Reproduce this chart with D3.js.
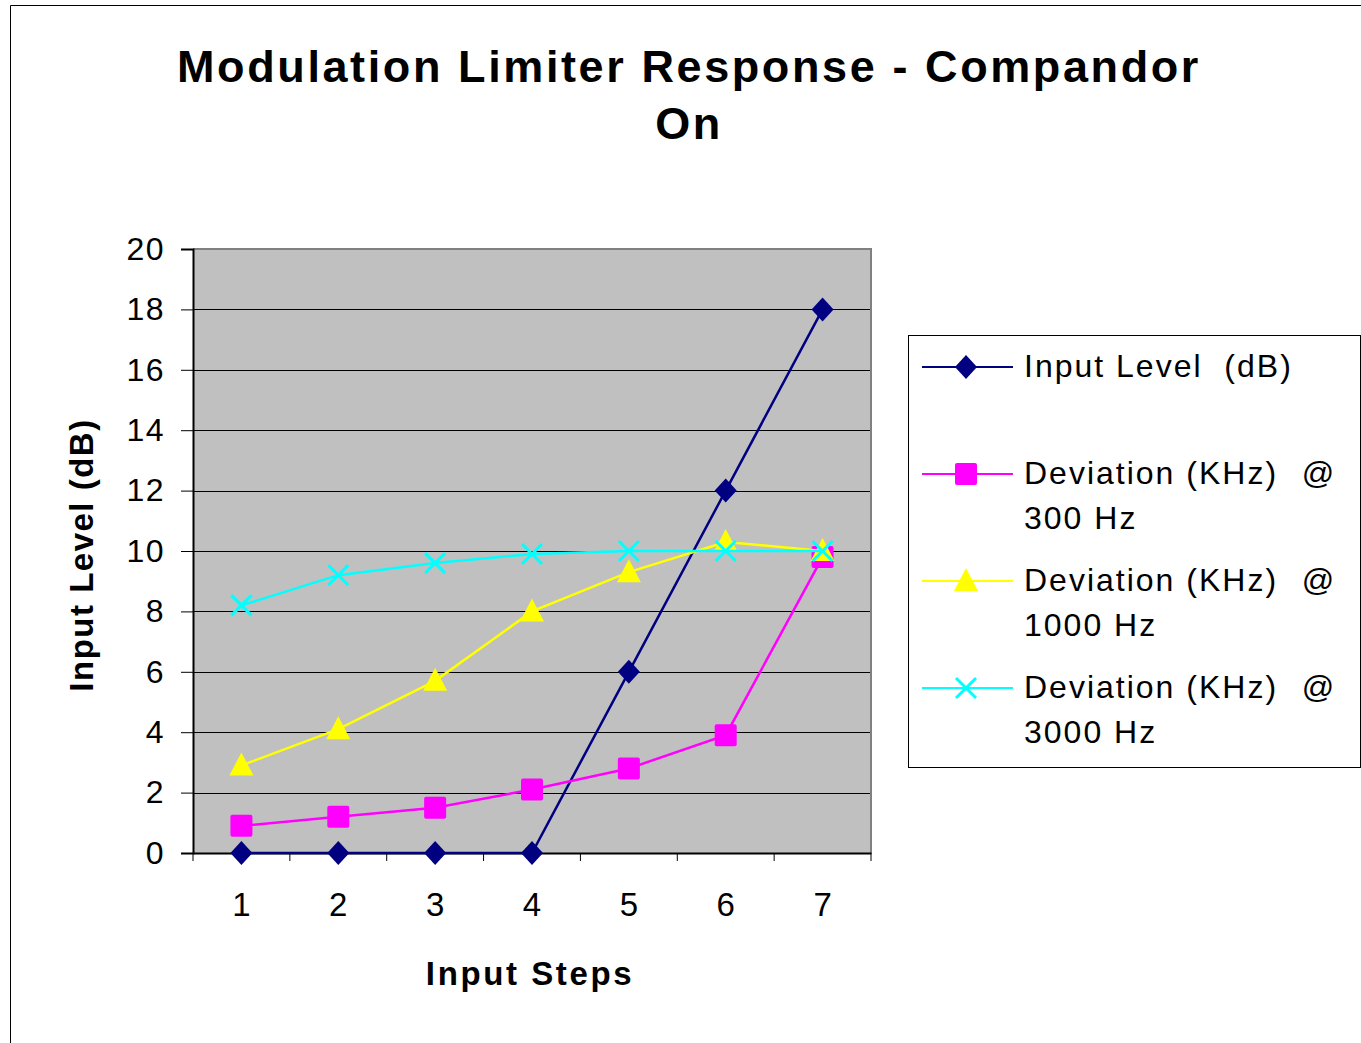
<!DOCTYPE html>
<html>
<head>
<meta charset="utf-8">
<script src="https://cdn.jsdelivr.net/npm/d3@7"></script>
<style>
  body { margin: 0; background: #fff; }
  text { font-family: "Liberation Sans", Arial, sans-serif; white-space: pre; }
</style>
</head>
<body>
<div id="chart"></div>
<script>
// data
const steps = ["1", "2", "3", "4", "5", "6", "7"];
const inputLevel = [0, 0, 0, 0, 6, 12, 18];
const dev300 = [0.9, 1.2, 1.5, 2.1, 2.8, 3.9, 9.8];
const dev1000 = [2.9, 4.1, 5.7, 8.0, 9.3, 10.3, 10.0];
const dev3000 = [8.2, 9.2, 9.6, 9.9, 10.0, 10.0, 10.0];
const yTicks = [0, 2, 4, 6, 8, 10, 12, 14, 16, 18, 20];

const series = [
  {name: ["Input Level  (dB)"], values: inputLevel, color: "#000080", marker: "diamond"},
  {name: ["Deviation (KHz)", "300 Hz"], values: dev300, color: "#FF00FF", marker: "square"},
  {name: ["Deviation (KHz)", "1000 Hz"], values: dev1000, color: "#FFFF00", marker: "triangle"},
  {name: ["Deviation (KHz)", "3000 Hz"], values: dev3000, color: "#00FFFF", marker: "cross"}
];

const W = 1361, H = 1043;
const plot = {left: 193, top: 249, right: 871, bottom: 853};

const svg = d3.select("#chart").append("svg")
  .attr("width", W).attr("height", H);

// outer frame
svg.append("path")
  .attr("d", `M10.5,${H} V5.5 H${W}`)
  .attr("fill", "none").attr("stroke", "#000").attr("stroke-width", 1);

// title
const title = svg.append("text")
  .attr("text-anchor", "middle")
  .style("font-size", "45px").style("font-weight", "bold")
  .style("letter-spacing", "2.6px");
title.append("tspan").attr("x", 689).attr("y", 82).text("Modulation Limiter Response - Compandor");
title.append("tspan").attr("x", 689).attr("y", 139).text("On");

let x = d3.scaleBand().domain(steps).range([plot.left, plot.right]);
let y = d3.scaleLinear().domain([0, 20]).range([plot.bottom, plot.top]);

// plot background
svg.append("rect")
  .attr("x", plot.left).attr("y", plot.top)
  .attr("width", plot.right - plot.left).attr("height", plot.bottom - plot.top)
  .attr("fill", "#C0C0C0");

// gridlines
svg.append("g").selectAll("line")
  .data(yTicks.filter(d => d > 0 && d < 20))
  .enter().append("line")
  .attr("x1", plot.left).attr("x2", plot.right)
  .attr("y1", d => Math.round(y(d)) + 0.5).attr("y2", d => Math.round(y(d)) + 0.5)
  .attr("stroke", "#000").attr("stroke-width", 1);

// plot border top/right
svg.append("path")
  .attr("d", `M${plot.left},${plot.top} H${plot.right} V${plot.bottom}`)
  .attr("fill", "none").attr("stroke", "#808080").attr("stroke-width", 2);

// Y axis
let yAxis = d3.axisLeft(y).tickValues(yTicks).tickSize(12).tickPadding(16);
const gy = svg.append("g")
  .attr("transform", `translate(${plot.left},0)`)
  .call(yAxis);
gy.select(".domain").attr("stroke", "#000").attr("stroke-width", 2);
gy.selectAll(".tick line").attr("stroke", "#000");
gy.selectAll("text").style("font-size", "32px").attr("fill", "#000")
  .style("letter-spacing", "1.5px")
  .style("font-family", "'Liberation Sans', Arial, sans-serif");

// X axis (ticks between categories)
let xAxis = d3.axisBottom(x).tickSize(0).tickPadding(40);
const gx = svg.append("g")
  .attr("transform", `translate(0,${plot.bottom})`)
  .call(xAxis);
gx.select(".domain").attr("stroke", "#000").attr("stroke-width", 2);
gx.selectAll("text").style("font-size", "33px").attr("fill", "#000")
  .style("font-family", "'Liberation Sans', Arial, sans-serif");
gx.selectAll(".sep")
  .data(steps.map(s => x(s)).concat([plot.right]))
  .enter().append("line")
  .attr("x1", d => d).attr("x2", d => d)
  .attr("y1", 0).attr("y2", 8)
  .attr("stroke", "#000");

// axis titles
svg.append("text")
  .attr("transform", `translate(93,${(plot.top + plot.bottom) / 2 + 4}) rotate(-90)`)
  .attr("text-anchor", "middle")
  .style("font-size", "33px").style("font-weight", "bold")
  .style("letter-spacing", "1.5px")
  .text("Input Level (dB)");

svg.append("text")
  .attr("x", 530).attr("y", 985)
  .attr("text-anchor", "middle")
  .style("font-size", "33px").style("font-weight", "bold")
  .style("letter-spacing", "2.6px")
  .text("Input Steps");

// marker drawing
function drawMarker(g, type, color) {
  if (type === "diamond") {
    g.append("path").attr("d", "M0,-12 L11,0 L0,12 L-11,0 Z").attr("fill", color);
  } else if (type === "square") {
    g.append("rect").attr("x", -11).attr("y", -11).attr("width", 22).attr("height", 22)
      .attr("rx", 2).attr("fill", color);
  } else if (type === "triangle") {
    g.append("path").attr("d", "M0,-13 L12,10 L-12,10 Z").attr("fill", color);
  } else if (type === "cross") {
    g.append("path").attr("d", "M-10,-10 L10,10 M-10,10 L10,-10")
      .attr("stroke", color).attr("stroke-width", 3).attr("fill", "none");
  }
}

const line = d3.line()
  .x((d, i) => x(steps[i]) + x.bandwidth() / 2)
  .y(d => y(d));

// draw series in order so later series sit on top
series.forEach(s => {
  svg.append("path")
    .datum(s.values)
    .attr("d", line)
    .attr("fill", "none")
    .attr("stroke", s.color)
    .attr("stroke-width", 2.5);
  s.values.forEach((v, i) => {
    const g = svg.append("g")
      .attr("transform", `translate(${x(steps[i]) + x.bandwidth() / 2},${y(v)})`);
    drawMarker(g, s.marker, s.color);
  });
});

// legend
svg.append("rect")
  .attr("x", 908.5).attr("y", 335.5).attr("width", 452).attr("height", 432)
  .attr("fill", "#fff").attr("stroke", "#000").attr("stroke-width", 1);

const legendRows = [367, 474, 581, 688];
series.forEach((s, i) => {
  const ly = legendRows[i];
  svg.append("line")
    .attr("x1", 922).attr("x2", 1013).attr("y1", ly).attr("y2", ly)
    .attr("stroke", s.color).attr("stroke-width", 2);
  const g = svg.append("g").attr("transform", `translate(966,${ly})`);
  drawMarker(g, s.marker, s.color);
  s.name.forEach((t, j) => {
    svg.append("text")
      .attr("x", 1024).attr("y", ly + 10 + j * 45)
      .style("font-size", "32px")
      .style("letter-spacing", "2px")
      .text(t);
  });
  if (s.name.length > 1) {
    svg.append("text")
      .attr("x", 1318).attr("y", ly + 10)
      .attr("text-anchor", "middle")
      .style("font-size", "32px")
      .text("@");
  }
});
</script>
</body>
</html>
